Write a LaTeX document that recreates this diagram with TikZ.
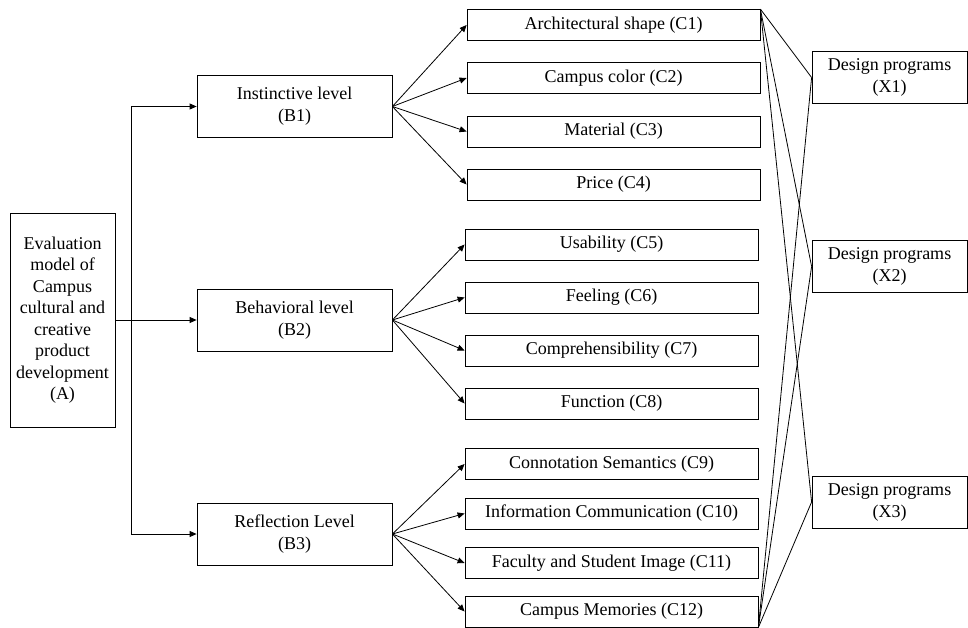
\documentclass[tikz,border=0pt]{standalone}
\usepackage{fontspec}
\setmainfont{Liberation Serif}
\usetikzlibrary{arrows.meta}
\begin{document}
\begin{tikzpicture}[x=1pt,y=-1pt,
  every node/.style={font=\fontsize{18}{22}\selectfont},
  boxn/.style={draw,line width=0.8pt,inner sep=0pt,align=center,anchor=center},
  cbox/.style={boxn,minimum width=293pt,minimum height=31pt},
  bbox/.style={boxn,minimum width=195pt,minimum height=62pt},
  xbox/.style={boxn,minimum width=155pt,minimum height=52pt},
  arr/.style={line width=0.8pt,-{Triangle[length=7pt,width=6pt]}},
  ln/.style={line width=0.8pt}]
\useasboundingbox (0,0) rectangle (968,628);
\node[boxn,minimum width=105pt,minimum height=214pt,font=\fontsize{18}{21.5}\selectfont] (A) at (62.5,320) {Evaluation\\model of\\Campus\\cultural and\\creative\\product\\development\\(A)};
\node[bbox] (B1) at (294.5,106.5) {Instinctive level\\(B1)};
\node[bbox] (B2) at (294.5,320) {Behavioral level\\(B2)};
\node[bbox] (B3) at (294.5,534) {Reflection Level\\(B3)};
\node[cbox] (C1) at (613.5,25) {Architectural shape (C1)};
\node[cbox] (C2) at (613.5,78) {Campus color (C2)};
\node[cbox] (C3) at (613.5,131.5) {Material (C3)};
\node[cbox] (C4) at (613.5,184.5) {Price (C4)};
\node[cbox] (C5) at (611.5,244.5) {Usability (C5)};
\node[cbox] (C6) at (611.5,297.5) {Feeling (C6)};
\node[cbox] (C7) at (611.5,350.5) {Comprehensibility (C7)};
\node[cbox] (C8) at (611.5,403.5) {Function (C8)};
\node[cbox] (C9) at (611.5,464) {Connotation Semantics (C9)};
\node[cbox] (C10) at (611.5,513.5) {Information Communication (C10)};
\node[cbox] (C11) at (611.5,563) {Faculty and Student Image (C11)};
\node[cbox] (C12) at (611.5,611.5) {Campus Memories (C12)};
\node[xbox] (X1) at (889.5,77.5) {Design programs\\(X1)};
\node[xbox] (X2) at (889.5,266.5) {Design programs\\(X2)};
\node[xbox] (X3) at (889.5,502) {Design programs\\(X3)};
\coordinate (S) at (131,320);
\draw[ln] (A.east) -- (S);
\draw[arr] (S) -- (B2.west);
\draw[arr] (S) |- (B1.west);
\draw[arr] (S) |- (B3.west);
\foreach \c in {C1,C2,C3,C4} \draw[arr] (B1.east) -- (\c.west);
\foreach \c in {C5,C6,C7,C8} \draw[arr] (B2.east) -- (\c.west);
\foreach \c in {C9,C10,C11,C12} \draw[arr] (B3.east) -- (\c.west);
\foreach \x in {X1,X2,X3} {
  \draw[ln] (C1.north east) -- (\x.west);
  \draw[ln] (C12.south east) -- (\x.west);
}
\end{tikzpicture}
\end{document}
